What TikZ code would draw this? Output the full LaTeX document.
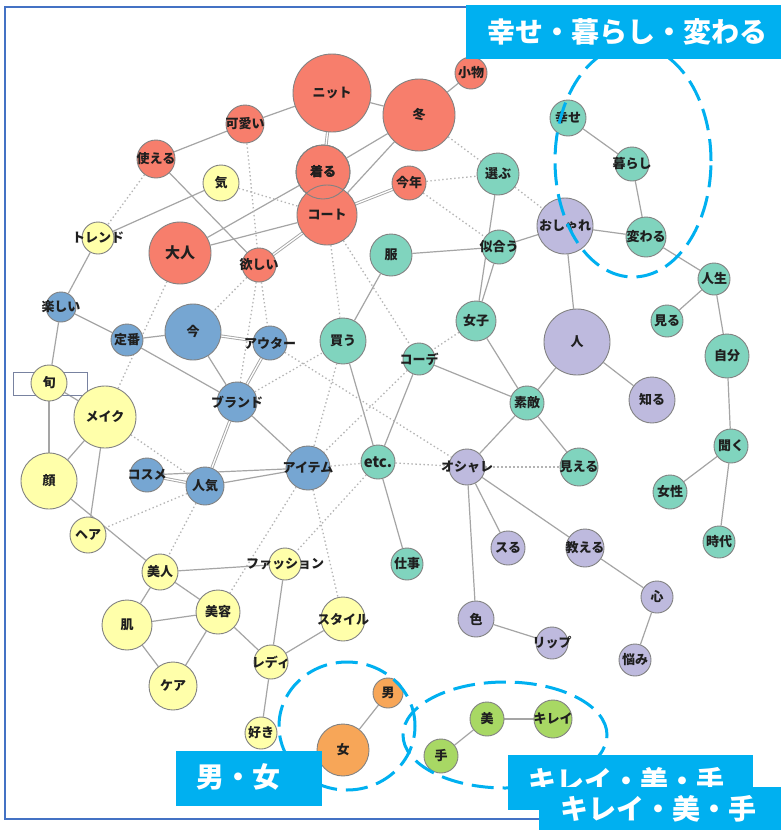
\documentclass[tikz,border=0pt]{standalone}
\usepackage{fontspec}
\setmainfont{Noto Sans CJK JP}
\usetikzlibrary{backgrounds}
\definecolor{cred}{RGB}{247,126,108}
\definecolor{cyel}{RGB}{255,255,170}
\definecolor{cblue}{RGB}{118,166,210}
\definecolor{cteal}{RGB}{128,212,190}
\definecolor{cpur}{RGB}{190,186,222}
\definecolor{corg}{RGB}{247,166,88}
\definecolor{cgrn}{RGB}{168,216,100}
\definecolor{ncirc}{RGB}{130,130,130}
\definecolor{egray}{RGB}{165,165,165}
\definecolor{dgray}{RGB}{180,180,180}
\definecolor{cyanl}{RGB}{0,176,240}
\definecolor{frameb}{RGB}{68,114,196}
\definecolor{boxg}{RGB}{120,130,160}
\newcommand\NN[6]{\node[nd, fill=#5, minimum size={2*#4pt}, label={center:#6}] (#1) at (#2,#3) {};}
\tikzset{
  nd/.style={circle, draw=ncirc, line width=0.9pt, inner sep=0pt},
  every label/.style={inner sep=0pt, font=\bfseries\fontsize{13}{13}\selectfont, text=black!88},
  se/.style={draw=egray, line width=1.2pt},
  twin/.style={draw=egray, line width=0.9pt, double=white, double distance=1.3pt},
  de/.style={draw=dgray, line width=1.3pt, dash pattern=on 1.4pt off 2.6pt},
  ring/.style={draw=cyanl, line width=3pt, dash pattern=on 22pt off 9pt},
  lblbox/.style={fill=cyanl, inner sep=0pt, anchor=north west},
  lbltext/.style={text=white, font=\bfseries\fontsize{28}{28}\selectfont, inner sep=0pt}
}
\begin{document}
\begin{tikzpicture}[x=1pt,y=-1pt]
\useasboundingbox (0,0) rectangle (781,830);
% frame
\draw[frameb, line width=1.5pt] (781,7) -- (5,7) -- (5,819) -- (781,819);
\draw[boxg, line width=1pt] (13,372) rectangle (87,395);
% red
\NN{nit}{332}{93}{39}{cred}{ニット}
\NN{kawaii}{245}{124}{19}{cred}{可愛い}
\NN{tsukaeru}{156}{159}{19}{cred}{使える}
\NN{kiru}{323}{172}{27}{cred}{着る}
\NN{coat}{327}{215}{30}{cred}{コート}
\node[nd, fill=cred, minimum size=62pt, label={[font=\bfseries\fontsize{15}{15}\selectfont]center:大人}] (otona) at (180,253) {};
\NN{hoshii}{259}{265}{17}{cred}{欲しい}
\NN{fuyu}{419}{115}{36}{cred}{冬}
\NN{komono}{471}{73}{16}{cred}{小物}
\NN{kotoshi}{409}{183}{17}{cred}{今年}
\draw[ncirc, line width=0.9pt] (kiru.center) circle (27pt);
\node[inner sep=0pt, font=\bfseries\fontsize{13}{13}\selectfont, text=black!88] (kirut) at (kiru) {着る};
% yellow
\NN{ki}{221}{183}{18}{cyel}{気}
\NN{trend}{98}{238}{16}{cyel}{トレンド}
\NN{shun}{49}{383}{18}{cyel}{旬}
\NN{make}{105}{417}{31}{cyel}{メイク}
\NN{kao}{49}{481}{28}{cyel}{顔}
\NN{hair}{88}{535}{18}{cyel}{ヘア}
\NN{bijin}{160}{572}{18}{cyel}{美人}
\NN{fashion}{285}{564}{16}{cyel}{ファッション}
\NN{biyou}{218}{612}{22}{cyel}{美容}
\NN{hada}{127}{625}{25}{cyel}{肌}
\NN{style}{343}{619}{22}{cyel}{スタイル}
\NN{lady}{271}{662}{17}{cyel}{レディ}
\NN{care}{173}{686}{24}{cyel}{ケア}
\NN{suki}{261}{733}{16}{cyel}{好き}
% blue
\NN{tanoshii}{61}{307}{15}{cblue}{楽しい}
\NN{teiban}{127}{340}{16}{cblue}{定番}
\NN{ima}{193}{332}{28}{cblue}{今}
\NN{outer}{270}{343}{17}{cblue}{アウター}
\NN{brand}{237}{402}{20}{cblue}{ブランド}
\NN{cosme}{147}{475}{17}{cblue}{コスメ}
\NN{ninki}{205}{486}{19}{cblue}{人気}
\NN{item}{308}{468}{22}{cblue}{アイテム}
% teal
\NN{fuku}{391}{255}{21}{cteal}{服}
\NN{kau}{343}{341}{23}{cteal}{買う}
\NN{erabu}{498}{174}{21}{cteal}{選ぶ}
\NN{niau}{499}{247}{17}{cteal}{似合う}
\NN{joshi}{476}{321}{20}{cteal}{女子}
\NN{coorde}{419}{359}{16}{cteal}{コーデ}
\node[nd, fill=cteal, minimum size=34pt, label={[font=\bfseries\fontsize{15}{15}\selectfont]center:etc.}] (etc) at (378,462) {};
\NN{shigoto}{407}{564}{16}{cteal}{仕事}
\NN{suteki}{527}{403}{17}{cteal}{素敵}
\NN{mieru}{579}{467}{19}{cteal}{見える}
\NN{shiawase}{568}{118}{18}{cteal}{幸せ}
\NN{kurashi}{632}{164}{17}{cteal}{暮らし}
\NN{kawaru}{646}{237}{20}{cteal}{変わる}
\NN{jinsei}{714}{279}{16}{cteal}{人生}
\NN{miru}{667}{321}{16}{cteal}{見る}
\NN{jibun}{727}{356}{22}{cteal}{自分}
\NN{kiku}{731}{446}{17}{cteal}{聞く}
\NN{josei}{670}{492}{17}{cteal}{女性}
\NN{jidai}{719}{542}{16}{cteal}{時代}
% purple
\NN{oshare}{565}{226}{28}{cpur}{おしゃれ}
\NN{hito}{577}{342}{33}{cpur}{人}
\NN{shiru}{652}{400}{23}{cpur}{知る}
\NN{oshareb}{467}{467}{18}{cpur}{オシャレ}
\NN{suru}{508}{548}{17}{cpur}{スる}
\NN{oshieru}{585}{548}{19}{cpur}{教える}
\NN{kokoro}{657}{597}{16}{cpur}{心}
\NN{iro}{476}{619}{18}{cpur}{色}
\NN{lip}{552}{643}{16}{cpur}{リップ}
\NN{nayami}{635}{660}{16}{cpur}{悩み}
% orange
\NN{otoko}{388}{693}{15}{corg}{男}
\NN{onna}{343}{750}{26}{corg}{女}
% green
\NN{bi}{487}{719}{17}{cgrn}{美}
\NN{kirei}{553}{719}{19}{cgrn}{キレイ}
\NN{te}{441}{756}{17}{cgrn}{手}
\begin{scope}[on background layer]
\fill[white] (0,0) rectangle (781,830);
\foreach \a/\b in {kawaii/nit, tsukaeru/kawaii, tsukaeru/hoshii, nit/fuyu, fuyu/komono,
  fuyu/kiru, fuyu/coat, kiru/otona, coat/otona, ki/trend, trend/tanoshii, tanoshii/shun,
  tanoshii/teiban, shun/kao, shun/make, kao/make, make/hair, kao/bijin, teiban/ima,
  teiban/brand, ima/brand, brand/item, cosme/item, ninki/item, bijin/fashion, bijin/biyou,
  bijin/hada, hada/biyou, hada/care, biyou/care, biyou/lady, fashion/lady, style/lady,
  lady/suki, otoko/onna, bi/kirei, bi/te, fuku/niau, fuku/kau, niau/oshare, erabu/joshi,
  niau/joshi, oshare/kawaru, oshare/hito, shiawase/kurashi, kurashi/kawaru, kawaru/jinsei,
  jinsei/miru, jinsei/jibun, jibun/kiku, kiku/josei, kiku/jidai, joshi/suteki, coorde/suteki,
  coorde/etc, kau/etc, etc/shigoto, suteki/hito, suteki/mieru, suteki/oshareb, hito/shiru,
  oshareb/iro, oshareb/suru, oshareb/oshieru, iro/lip, oshieru/kokoro, kokoro/nayami}
  \draw[se] (\a) -- (\b);
\foreach \a/\b in {nit/kiru, coat/hoshii, coat/kotoshi, ima/outer, outer/brand, brand/ninki, cosme/ninki}
  \draw[twin] (\a) -- (\b);
\foreach \a/\b in {kawaii/hoshii, tsukaeru/trend, ki/coat, fuyu/erabu, kotoshi/erabu,
  kotoshi/niau, erabu/oshare, coat/kau, coat/coorde, hoshii/ima, hoshii/outer, hoshii/brand,
  otona/make, outer/oshareb, brand/kau, kau/item, coorde/item, joshi/coorde, item/etc,
  etc/oshareb, oshareb/mieru, item/biyou, item/style, etc/fashion, ninki/bijin, ninki/hair,
  make/ninki}
  \draw[de] (\a) -- (\b);
\end{scope}
% dashed groups
\draw[ring] (633,161) ellipse (78pt and 116pt);
\draw[ring] (347,726) ellipse (68pt and 64pt);
\draw[ring] (505,735) ellipse (102pt and 53pt);
% labels
\node[lblbox, minimum width=315pt, minimum height=54pt] (lab1) at (466,5) {};
\node[lbltext] (lab1t) at (627,32) {幸せ・暮らし・変わる};
\node[lblbox, minimum width=146pt, minimum height=55pt] (lab2) at (176,751) {};
\node[lbltext] (lab2t) at (238,777) {男・女};
\node[lblbox, minimum width=245pt, minimum height=55pt] (lab3) at (508,755) {};
\node[lbltext] (lab3t) at (626,781) {キレイ・美・手};
\node[lblbox, minimum width=242pt, minimum height=43pt] (lab4) at (539,787) {};
\node[lbltext] (lab4t) at (658,809) {キレイ・美・手};
\end{tikzpicture}
\end{document}
